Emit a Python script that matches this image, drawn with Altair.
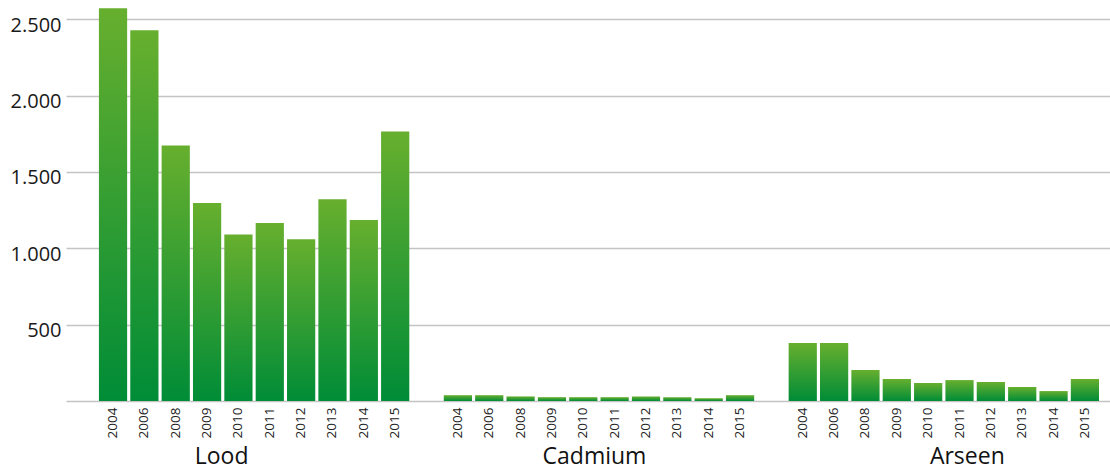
import altair as alt
import pandas as pd

groups = ["Lood", "Cadmium", "Arseen"]
years = ["2004", "2006", "2008", "2009", "2010", "2011", "2012", "2013", "2014", "2015"]
lood = [2572, 2428, 1673, 1296, 1091, 1165, 1060, 1322, 1185, 1765]
cadmium = [38, 38, 30, 25, 25, 25, 30, 25, 18, 38]
arseen = [380, 380, 203, 144, 118, 137, 124, 92, 65, 144]
y_ticks = [0, 500, 1000, 1500, 2000, 2500]

series = {"Lood": lood, "Cadmium": cadmium, "Arseen": arseen}
rows = []
domain = []
for gi, g in enumerate(groups):
    for y, v in zip(years, series[g]):
        key = f"{g}|{y}"
        rows.append({"key": key, "group": g, "year": y, "value": v})
        domain.append(key)
    if gi < len(groups) - 1:
        domain.append(f"gap{gi}|")
df = pd.DataFrame(rows)
gdf = pd.DataFrame({"group": groups})

FONT = "Open Sans"

gradient = alt.Gradient(
    gradient="linear",
    stops=[alt.GradientStop(color="#67af2e", offset=0),
           alt.GradientStop(color="#008c37", offset=1)],
    x1=0, x2=0, y1=0, y2=1,
)

bars = alt.Chart(df).mark_bar(color=gradient).encode(
    x=alt.X("key:N", sort=domain,
            scale=alt.Scale(domain=domain, paddingInner=0.1, paddingOuter=0.7, align=0.75),
            axis=alt.Axis(orient="bottom", title=None, labelAngle=270, labelFontSize=13.5,
                          labelFont=FONT, labelColor="#222222", labelPadding=6,
                          ticks=False, domain=False, grid=False,
                          labelExpr="split(datum.value, '|')[1]")),
    y=alt.Y("value:Q",
            scale=alt.Scale(domain=[0, 2600], nice=False),
            axis=alt.Axis(title=None, values=y_ticks, ticks=False, domain=False,
                          labelFontSize=20, labelFont=FONT, labelColor="#1a1a1a",
                          labelPadding=5, labelOffset=6,
                          gridColor="#c4c4c4", gridWidth=1.3,
                          labelExpr="datum.value == 0 ? '' : replace(format(datum.value, ','), ',', '.')")),
)

group_labels = alt.Chart(gdf).mark_text(opacity=0, text=" ").encode(
    x=alt.X("group:N", sort=groups,
            scale=alt.Scale(type="point", domain=groups, padding=0.4, align=0.52),
            axis=alt.Axis(orient="bottom", title=None, labelAngle=0, labelFontSize=23,
                          labelFont=FONT, labelColor="#111111", labelPadding=44,
                          ticks=False, domain=False, grid=False)),
    y=alt.value(0),
)

chart = alt.layer(bars, group_labels).resolve_scale(x="independent").properties(
    width=1044,
    height=397,
    background="white",
    autosize=alt.AutoSizeParams(type="none"),
    padding={"left": 66, "top": 4, "right": 0, "bottom": 68},
).configure_view(stroke="transparent", strokeWidth=0)

chart.save("out.html", embed_options={"renderer": "svg", "actions": False})
